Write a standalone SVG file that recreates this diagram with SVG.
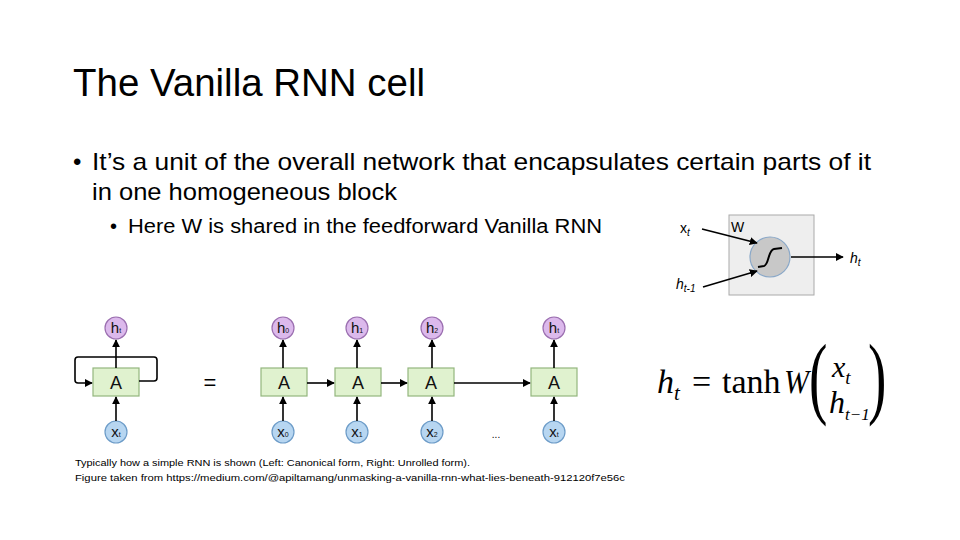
<svg xmlns="http://www.w3.org/2000/svg" width="960" height="540" viewBox="0 0 960 540">
<style>
.t{font-family:"Liberation Sans",Arial,sans-serif;fill:#000}
.box{fill:#e0f2cf;stroke:#93b67e;stroke-width:1.2}
.hc{fill:#dcb9ec;stroke:#9b6fb0;stroke-width:1.2}
.xc{fill:#b7d6f1;stroke:#6d9cc8;stroke-width:1.2}
.ln{stroke:#000;stroke-width:1.6;fill:none}
.lbl{font-family:"Liberation Sans",Arial,sans-serif;font-size:15px;fill:#111;text-anchor:middle}
.A{font-family:"Liberation Sans",Arial,sans-serif;font-size:18px;fill:#111;text-anchor:middle}
.m{font-family:"Liberation Serif","Times New Roman",serif;fill:#000}
</style>
<defs>
<marker id="ar" viewBox="0 0 10 10" refX="9" refY="5" markerWidth="5" markerHeight="5" orient="auto" markerUnits="strokeWidth">
<path d="M0,0 L10,5 L0,10 z" fill="#000"/>
</marker>
</defs>
<rect width="960" height="540" fill="#fff"/>
<text class="t" x="73" y="96" font-size="38" fill="#111" textLength="352" lengthAdjust="spacingAndGlyphs">The Vanilla RNN cell</text>
<text class="t" x="73" y="170" font-size="24">•</text>
<text class="t" x="92" y="170" font-size="24" textLength="779" lengthAdjust="spacingAndGlyphs">It’s a unit of the overall network that encapsulates certain  parts of it</text>
<text class="t" x="92" y="200" font-size="24" textLength="305" lengthAdjust="spacingAndGlyphs">in one homogeneous block</text>
<text class="t" x="110" y="233" font-size="20">•</text>
<text class="t" x="128" y="233" font-size="20" textLength="474" lengthAdjust="spacingAndGlyphs">Here W is shared in the feedforward Vanilla RNN</text>

<g id="cell">
<rect x="729" y="215" width="85" height="80" fill="#eeeeee" stroke="#aaaaaa" stroke-width="1"/>
<circle cx="770" cy="257" r="20" fill="#c8c8c8" stroke="#8aa8c8" stroke-width="1.2"/>
<path d="M758,267 L764,266 C769,265 768,250 774,249 L782,248" fill="none" stroke="#000" stroke-width="2"/>
<text class="t" x="731" y="232" font-size="14" fill="#333">W</text>
</g>
<g id="cell-labels">
<text class="t" x="680" y="233" font-size="14" fill="#222">x<tspan font-size="10" font-style="italic" dy="3">t</tspan></text>
<text class="t" x="850" y="263" font-size="14" font-style="italic" fill="#222">h<tspan font-size="10" dy="3">t</tspan></text>
<text class="t" x="676" y="289" font-size="14" font-style="italic" fill="#222">h<tspan font-size="10" dy="3">t-1</tspan></text>
</g>

<g id="canon-h"><circle class="hc" cx="116" cy="328" r="11"/><text class="lbl" x="116" y="333">h<tspan font-size="7">t</tspan></text></g>
<g id="canon-A"><rect class="box" x="93" y="368" width="46" height="28"/><text class="A" x="116" y="389">A</text></g>
<g id="canon-x"><circle class="xc" cx="116" cy="432" r="11"/><text class="lbl" x="116" y="437">x<tspan font-size="7">t</tspan></text></g>

<text class="t" x="210" y="390" font-size="22" text-anchor="middle" fill="#222">=</text>

<g id="h0"><circle class="hc" cx="283" cy="328" r="11"/><text class="lbl" x="283" y="333">h<tspan font-size="7">0</tspan></text></g>
<g id="A0"><rect class="box" x="261" y="368" width="46" height="28"/><text class="A" x="284" y="389">A</text></g>
<g id="x0"><circle class="xc" cx="283" cy="432" r="11"/><text class="lbl" x="283" y="437">x<tspan font-size="7">0</tspan></text></g>

<g id="h1"><circle class="hc" cx="357" cy="328" r="11"/><text class="lbl" x="357" y="333">h<tspan font-size="7">1</tspan></text></g>
<g id="A1"><rect class="box" x="335" y="368" width="46" height="28"/><text class="A" x="358" y="389">A</text></g>
<g id="x1"><circle class="xc" cx="357" cy="432" r="11"/><text class="lbl" x="357" y="437">x<tspan font-size="7">1</tspan></text></g>

<g id="h2"><circle class="hc" cx="432" cy="328" r="11"/><text class="lbl" x="432" y="333">h<tspan font-size="7">2</tspan></text></g>
<g id="A2"><rect class="box" x="408" y="368" width="46" height="28"/><text class="A" x="431" y="389">A</text></g>
<g id="x2"><circle class="xc" cx="432" cy="432" r="11"/><text class="lbl" x="432" y="437">x<tspan font-size="7">2</tspan></text></g>

<g id="ht"><circle class="hc" cx="554" cy="328" r="11"/><text class="lbl" x="554" y="333">h<tspan font-size="7">t</tspan></text></g>
<g id="At"><rect class="box" x="531" y="368" width="46" height="28"/><text class="A" x="554" y="389">A</text></g>
<g id="xt"><circle class="xc" cx="554" cy="432" r="11"/><text class="lbl" x="554" y="437">x<tspan font-size="7">t</tspan></text></g>

<text class="t" x="496" y="438" font-size="10" fill="#999" text-anchor="middle">...</text>

<g id="connectors">
<line class="ln" x1="702" y1="229" x2="757" y2="243" marker-end="url(#ar)"/>
<line class="ln" x1="703" y1="287" x2="757" y2="271" marker-end="url(#ar)"/>
<line class="ln" x1="791" y1="257" x2="843" y2="257" marker-end="url(#ar)"/>
<line class="ln" x1="116" y1="421" x2="116" y2="397" marker-end="url(#ar)"/>
<line class="ln" x1="116" y1="368" x2="116" y2="340" marker-end="url(#ar)"/>
<path class="ln" d="M139,381 H154 Q157,381 157,378 V360 Q157,357 154,357 H78 Q75,357 75,360 V380 Q75,383 78,383 H92" marker-end="url(#ar)"/>
<line class="ln" x1="283" y1="421" x2="283" y2="397" marker-end="url(#ar)"/>
<line class="ln" x1="283" y1="368" x2="283" y2="340" marker-end="url(#ar)"/>
<line class="ln" x1="357" y1="421" x2="357" y2="397" marker-end="url(#ar)"/>
<line class="ln" x1="357" y1="368" x2="357" y2="340" marker-end="url(#ar)"/>
<line class="ln" x1="432" y1="421" x2="432" y2="397" marker-end="url(#ar)"/>
<line class="ln" x1="432" y1="368" x2="432" y2="340" marker-end="url(#ar)"/>
<line class="ln" x1="554" y1="421" x2="554" y2="397" marker-end="url(#ar)"/>
<line class="ln" x1="554" y1="368" x2="554" y2="340" marker-end="url(#ar)"/>
<line class="ln" x1="307" y1="383" x2="334" y2="383" marker-end="url(#ar)"/>
<line class="ln" x1="381" y1="383" x2="407" y2="383" marker-end="url(#ar)"/>
<line class="ln" x1="454" y1="383" x2="530" y2="383" marker-end="url(#ar)"/>
</g>

<g id="formula">
<text class="m" x="657" y="393" font-size="34" font-style="italic">h<tspan font-size="21" dy="7">t</tspan></text>
<text class="m" x="692" y="393" font-size="34">=</text>
<text class="m" x="722" y="393" font-size="34">tanh</text>
<text class="m" x="784" y="393" font-size="33" font-style="italic" textLength="25" lengthAdjust="spacingAndGlyphs">W</text>
<text class="m" font-size="92" transform="translate(809,407) scale(0.6,1)">(</text>
<text class="m" x="832" y="377" font-size="30" font-style="italic">x<tspan font-size="19" dy="7">t</tspan></text>
<text class="m" x="829" y="413" font-size="32" font-style="italic">h<tspan font-size="17" dy="7">t−1</tspan></text>
<text class="m" font-size="92" transform="translate(868,407) scale(0.6,1)">)</text>
</g>

<text class="t" x="75" y="466" font-size="9.5" textLength="395" lengthAdjust="spacingAndGlyphs">Typically how a simple RNN is shown (Left: Canonical form, Right: Unrolled form).</text>
<text class="t" x="75" y="481" font-size="9.5" textLength="550" lengthAdjust="spacingAndGlyphs">Figure taken from https://medium.com/@apiltamang/unmasking-a-vanilla-rnn-what-lies-beneath-912120f7e56c</text>
</svg>
